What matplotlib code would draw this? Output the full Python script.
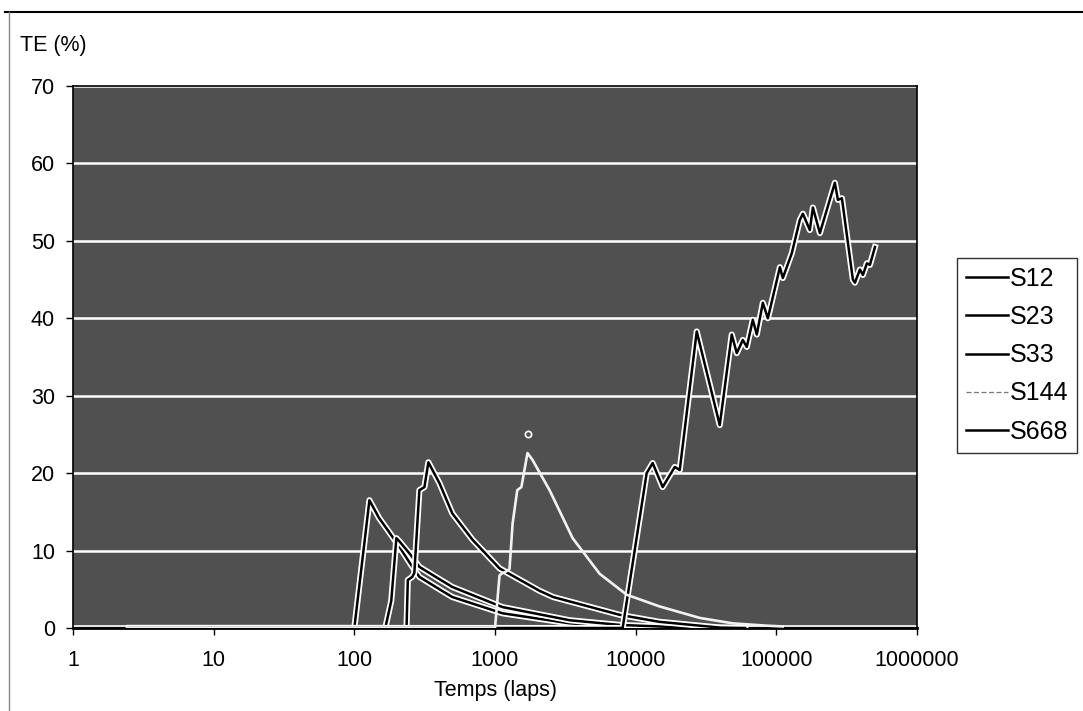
from __future__ import annotations

import matplotlib

matplotlib.use("Agg")
import matplotlib.patheffects as pe
import matplotlib.pyplot as plt
from matplotlib.lines import Line2D
from matplotlib.ticker import FixedLocator, NullLocator

# data (x = temps in laps, y = TE in %)
s12_x = [2.5, 100, 128, 150, 175, 209, 250, 290, 403, 497, 1131, 3400, 7700, 20000, 60000]
s12_y = [0, 0, 16.5, 14.2, 12.5, 10.5, 8.3, 6.6, 5.0, 4.0, 1.9, 0.6, 0.15, 0, 0]

s23_x = [2.5, 166, 177, 183, 199, 209, 250, 290, 403, 497, 1131, 3400, 7700, 20000, 60000]
s23_y = [0, 0, 2.3, 3.5, 11.6, 11.2, 9.5, 7.9, 6.3, 5.3, 2.7, 1.0, 0.4, 0.1, 0]

s33_x = [2.5, 235, 240, 258, 267, 290, 315, 336, 403, 497, 692, 1077, 2074, 2590, 7700, 14700, 40000, 60000]
s33_y = [0, 0, 6.2, 6.6, 7.1, 17.8, 18.2, 21.4, 18.7, 14.8, 11.4, 7.7, 4.8, 4.0, 1.7, 0.8, 0.05, 0]

s144_x = [2.5, 1000, 1077, 1131, 1200, 1268, 1334, 1440, 1540, 1702, 1849, 2443, 3564, 5546,
          8630, 14700, 28560, 48980, 85500, 111000]
s144_y = [0, 0, 6.8, 7.1, 7.3, 7.6, 13.5, 17.8, 18.2, 22.6, 21.7, 17.8, 11.6, 7.0,
          4.3, 2.8, 1.3, 0.6, 0.3, 0.2]

s668_x = [2.5, 8080, 11970, 13210, 15560, 18970, 20570, 27170, 39600, 48190, 52330, 57760,
          61660, 68020, 72610, 80170, 87040, 106000, 111200, 128800, 146900, 154500, 173000,
          181900, 204000, 260600, 274000, 292600, 350000, 362000, 392900, 412600, 440500,
          462700, 502500]
s668_y = [0, 0, 20.0, 21.3, 18.2, 20.8, 20.4, 38.3, 26.2, 37.9, 35.5, 37.2,
          36.3, 39.8, 37.9, 42.0, 40.0, 46.6, 45.2, 48.4, 52.7, 53.5, 51.4,
          54.3, 51.0, 57.5, 55.3, 55.5, 45.0, 44.6, 46.3, 45.6, 47.1,
          46.9, 49.2]

# small stray circle above the S144 peak
dot_x = [1730]
dot_y = [25.1]

series_names = ["S12", "S23", "S33", "S144", "S668"]
x_ticks = [1, 10, 100, 1000, 10000, 100000, 1000000]
x_labels = ["1", "10", "100", "1000", "10000", "100000", "1000000"]
y_ticks = [0, 10, 20, 30, 40, 50, 60, 70]

W, H = 1083, 711


def main() -> None:
    plt.rcParams["font.family"] = ["Liberation Sans", "DejaVu Sans"]

    fig = plt.figure(figsize=(W / 100, H / 100), dpi=100)
    ax = fig.add_axes([73 / W, 1 - 628 / H, (917 - 73) / W, (628 - 86) / H])
    ax.set_facecolor("#505050")

    ax.set_xscale("log")
    ax.set_xlim(1, 1_000_000)
    ax.set_ylim(0, 70)

    for y in y_ticks[1:]:
        ax.axhline(y, color="white", linewidth=1.8, zorder=1)
    ax.axhline(0.3, color="white", linewidth=1.2, zorder=1)

    outline = [pe.Stroke(linewidth=4.4, foreground="white"), pe.Normal()]
    for xs, ys in [(s12_x, s12_y), (s23_x, s23_y), (s33_x, s33_y)]:
        ax.plot(xs, ys, color="black", linewidth=1.8, zorder=3, path_effects=outline)
    ax.plot(s144_x, s144_y, color="#f2f2f2", linewidth=1.9, zorder=4)
    ax.plot(s668_x, s668_y, color="black", linewidth=1.8, zorder=3, path_effects=outline)
    ax.plot(dot_x, dot_y, "o", markersize=4.5, markerfacecolor="none",
            markeredgecolor="white", markeredgewidth=1.2, zorder=4)

    ax.xaxis.set_major_locator(FixedLocator(x_ticks))
    ax.xaxis.set_minor_locator(NullLocator())
    ax.set_xticklabels(x_labels)
    ax.set_yticks(y_ticks)
    ax.tick_params(axis="both", labelsize=15.5, color="black", length=5, width=1, direction="out")
    ax.tick_params(axis="x", pad=11)
    ax.tick_params(axis="y", pad=8)

    for side in ("left", "bottom", "top", "right"):
        ax.spines[side].set_color("black")
        ax.spines[side].set_linewidth(1.2)
    ax.spines["bottom"].set_linewidth(2)

    ax.set_xlabel("Temps (laps)", fontsize=15.5, labelpad=6)
    fig.text(20 / W, 1 - 46 / H, "TE (%)", fontsize=15.5, ha="left", va="center")

    handles = [
        Line2D([], [], color="black", linewidth=1.8),
        Line2D([], [], color="black", linewidth=1.8),
        Line2D([], [], color="black", linewidth=1.8),
        Line2D([], [], color="#777777", linewidth=0.9, linestyle=(0, (4, 2))),
        Line2D([], [], color="black", linewidth=1.8),
    ]
    leg = fig.legend(
        handles,
        series_names,
        loc="upper left",
        bbox_to_anchor=(957 / W, 1 - 258 / H),
        fontsize=18,
        frameon=True,
        fancybox=False,
        handlelength=1.7,
        handletextpad=0.05,
        labelspacing=0.57,
        borderpad=0.35,
        borderaxespad=0,
    )
    leg.get_frame().set_edgecolor("black")
    leg.get_frame().set_linewidth(1.0)

    fig.add_artist(Line2D([5 / W, 1], [1 - 12 / H, 1 - 12 / H], color="black", linewidth=1.5))
    fig.add_artist(Line2D([9 / W, 9 / W], [0, 1 - 12 / H], color="#888888", linewidth=1.0))

    fig.savefig("out.png", dpi=100)
    plt.close(fig)


if __name__ == "__main__":
    main()
